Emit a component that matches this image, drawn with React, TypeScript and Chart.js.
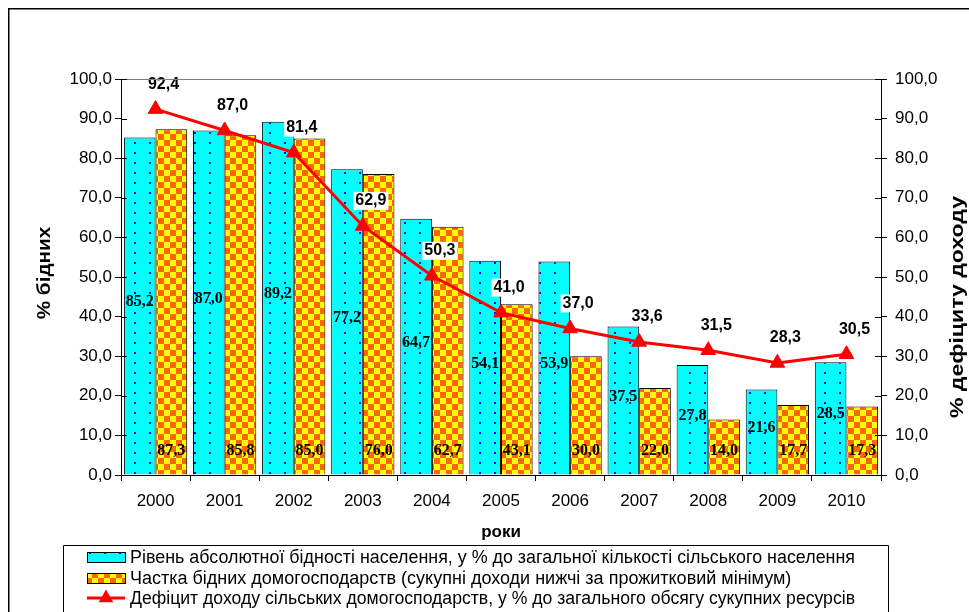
import React, { useEffect, useRef } from 'react';
import { Chart, registerables } from 'chart.js';

Chart.register(...registerables);

const years = ['2000', '2001', '2002', '2003', '2004', '2005', '2006', '2007', '2008', '2009', '2010'];
const povertyLevel = [85.2, 87.0, 89.2, 77.2, 64.7, 54.1, 53.9, 37.5, 27.8, 21.6, 28.5];
const poorHouseholds = [87.3, 85.8, 85.0, 76.0, 62.7, 43.1, 30.0, 22.0, 14.0, 17.7, 17.3];
const incomeDeficit = [92.4, 87.0, 81.4, 62.9, 50.3, 41.0, 37.0, 33.6, 31.5, 28.3, 30.5];

const legendLabels = [
  'Рівень абсолютної бідності населення, у % до загальної кількості сільського населення',
  'Частка бідних домогосподарств (сукупні доходи нижчі за прожитковий мінімум)',
  'Дефіцит доходу сільських домогосподарств, у % до загального обсягу сукупних ресурсів',
];
const leftTitle = '% бідних';
const rightTitle = '% дефіциту доходу';
const xTitle = 'роки';

const W = 961;
const H = 604;
const SANS = '"Liberation Sans", Arial, sans-serif';
const SERIF = '"Liberation Serif", "Times New Roman", serif';

const fmt = (v: number) => v.toFixed(1).replace('.', ',');

function makeDots(): CanvasPattern | string {
  const c = document.createElement('canvas');
  c.width = 15;
  c.height = 10;
  const g = c.getContext('2d');
  if (!g) return '#00FFFF';
  g.fillStyle = '#00FFFF';
  g.fillRect(0, 0, 15, 10);
  g.fillStyle = '#0000FF';
  g.fillRect(6, 4, 2, 2);
  const p = g.createPattern(c, 'repeat');
  return p || '#00FFFF';
}

function makeChecker(): CanvasPattern | string {
  const c = document.createElement('canvas');
  c.width = 12;
  c.height = 12;
  const g = c.getContext('2d');
  if (!g) return '#FF9900';
  g.fillStyle = '#FFFF00';
  g.fillRect(0, 0, 12, 12);
  g.fillStyle = '#FF6600';
  g.fillRect(0, 0, 6, 6);
  g.fillRect(6, 6, 6, 6);
  const p = g.createPattern(c, 'repeat');
  return p || '#FF9900';
}

export default function App() {
  const ref = useRef<HTMLCanvasElement | null>(null);

  useEffect(() => {
    document.documentElement.style.overflow = 'hidden';
    const canvas = ref.current;
    if (!canvas) return;
    const dots = makeDots();
    const checker = makeChecker();

    const decor = {
      id: 'decor',
      afterDatasetsDraw(chart: any) {
        const ctx = chart.ctx as CanvasRenderingContext2D;
        const m0 = chart.getDatasetMeta(0);
        const m1 = chart.getDatasetMeta(1);
        const m2 = chart.getDatasetMeta(2);
        ctx.save();
        ctx.font = 'bold 16px ' + SERIF;
        ctx.fillStyle = '#000';
        ctx.textAlign = 'center';
        ctx.textBaseline = 'middle';
        m0.data.forEach((bar: any, i: number) => {
          ctx.fillText(fmt(povertyLevel[i]), bar.x, (bar.y + bar.base) / 2 - 4);
        });
        m1.data.forEach((bar: any, i: number) => {
          ctx.fillText(fmt(poorHouseholds[i]), bar.x, bar.base - 24);
        });
        ctx.font = 'bold 16px ' + SANS;
        m2.data.forEach((pt: any, i: number) => {
          const t = fmt(incomeDeficit[i]);
          const w = ctx.measureText(t).width;
          const cx = pt.x + 8;
          const cy = pt.y - 25;
          ctx.fillStyle = '#fff';
          ctx.fillRect(cx - w / 2 - 2, cy - 9, w + 4, 18);
          ctx.fillStyle = '#000';
          ctx.fillText(t, cx, cy);
        });
        ctx.restore();
      },
      afterDraw(chart: any) {
        const ctx = chart.ctx as CanvasRenderingContext2D;
        const ca = chart.chartArea;
        ctx.save();
        ctx.strokeStyle = '#808080';
        ctx.lineWidth = 1;
        ctx.beginPath();
        ctx.moveTo(ca.left, Math.round(ca.top) + 0.5);
        ctx.lineTo(ca.right, Math.round(ca.top) + 0.5);
        ctx.stroke();
        ctx.strokeStyle = '#000';
        const ys = chart.scales.y;
        ys.ticks.forEach((t: any) => {
          const py = Math.round(ys.getPixelForValue(t.value)) + 0.5;
          ctx.beginPath();
          ctx.moveTo(ca.left, py);
          ctx.lineTo(ca.left + 6, py);
          ctx.moveTo(ca.right - 6, py);
          ctx.lineTo(ca.right, py);
          ctx.stroke();
        });
        ctx.strokeStyle = '#000';
        ctx.lineWidth = 1.5;
        ctx.beginPath();
        ctx.moveTo(0.75, H + 2);
        ctx.lineTo(0.75, 0.75);
        ctx.lineTo(W + 2, 0.75);
        ctx.stroke();
        ctx.fillStyle = '#000';
        ctx.textAlign = 'center';
        ctx.textBaseline = 'middle';
        ctx.font = 'bold 17px ' + SANS;
        ctx.fillText(xTitle, (ca.left + ca.right) / 2, ca.bottom + 57);
        ctx.font = 'bold 18px ' + SANS;
        ctx.save();
        ctx.translate(37, (ca.top + ca.bottom) / 2 - 4);
        ctx.rotate(-Math.PI / 2);
        ctx.scale(1.15, 1);
        ctx.fillText(leftTitle, 0, 0);
        ctx.restore();
        ctx.save();
        ctx.translate(950, 299);
        ctx.rotate(-Math.PI / 2);
        ctx.scale(1.28, 1);
        ctx.fillText(rightTitle, 0, 0);
        ctx.restore();
        ctx.strokeStyle = '#000';
        ctx.lineWidth = 1;
        ctx.beginPath();
        ctx.moveTo(55.5, H + 2);
        ctx.lineTo(55.5, 537.5);
        ctx.lineTo(880.5, 537.5);
        ctx.lineTo(880.5, H + 2);
        ctx.stroke();
        const rows = [549, 570, 590];
        const sx = 79;
        const sw = 38;
        ctx.fillStyle = dots as any;
        ctx.fillRect(sx, rows[0] - 5, sw, 11);
        ctx.strokeRect(sx + 0.5, rows[0] - 4.5, sw, 10);
        ctx.fillStyle = checker as any;
        ctx.fillRect(sx, rows[1] - 5, sw, 11);
        ctx.strokeRect(sx + 0.5, rows[1] - 4.5, sw, 10);
        ctx.strokeStyle = '#FF0000';
        ctx.lineWidth = 3;
        ctx.beginPath();
        ctx.moveTo(sx, rows[2]);
        ctx.lineTo(sx + sw, rows[2]);
        ctx.stroke();
        ctx.fillStyle = '#FF0000';
        ctx.beginPath();
        const tx = sx + sw / 2;
        const r = 8.5;
        ctx.moveTo(tx, rows[2] - r);
        ctx.lineTo(tx + r * 0.866, rows[2] + r * 0.5);
        ctx.lineTo(tx - r * 0.866, rows[2] + r * 0.5);
        ctx.closePath();
        ctx.fill();
        ctx.fillStyle = '#000';
        ctx.textAlign = 'left';
        ctx.font = '18px ' + SANS;
        legendLabels.forEach((t, i) => {
          ctx.fillText(t, 122, rows[i] + 1, 725);
        });
        ctx.restore();
      },
    };

    const chart = new Chart(canvas, {
      type: 'bar',
      data: {
        labels: years,
        datasets: [
          {
            type: 'bar',
            label: legendLabels[0],
            data: povertyLevel,
            backgroundColor: dots as any,
            borderColor: '#000',
            borderWidth: 1,
            yAxisID: 'y',
            order: 1,
            categoryPercentage: 0.916,
            barPercentage: 1.0,
          },
          {
            type: 'bar',
            label: legendLabels[1],
            data: poorHouseholds,
            backgroundColor: checker as any,
            borderColor: '#000',
            borderWidth: 1,
            yAxisID: 'y',
            order: 2,
            categoryPercentage: 0.916,
            barPercentage: 1.0,
          },
          {
            type: 'line',
            label: legendLabels[2],
            data: incomeDeficit,
            borderColor: '#FF0000',
            backgroundColor: '#FF0000',
            borderWidth: 3,
            pointStyle: 'triangle',
            pointRadius: 8.5,
            pointBorderWidth: 1,
            yAxisID: 'y2',
            order: 0,
            tension: 0,
          } as any,
        ],
      },
      options: {
        responsive: false,
        animation: false,
        layout: { padding: { top: 71, left: 0, right: 0, bottom: 0 } },
        plugins: {
          legend: { display: false },
          tooltip: { enabled: false },
          title: { display: false },
        },
        scales: {
          x: {
            offset: true,
            grid: { offset: true, drawOnChartArea: false, tickLength: 6, color: '#000' },
            border: { color: '#000', width: 1 },
            ticks: { color: '#000', font: { family: SANS, size: 17 }, padding: 10, maxRotation: 0 },
            afterFit: (s: any) => {
              s.height = H - 467;
            },
          },
          y: {
            position: 'left',
            min: 0,
            max: 100,
            ticks: {
              stepSize: 10,
              color: '#000',
              font: { family: SANS, size: 17 },
              padding: 3,
              callback: (v: any) => fmt(Number(v)),
            },
            grid: { drawOnChartArea: false, tickLength: 6, color: '#000' },
            border: { color: '#000', width: 1 },
            afterFit: (s: any) => {
              s.width = 113;
            },
          },
          y2: {
            position: 'right',
            min: 0,
            max: 100,
            ticks: {
              stepSize: 10,
              color: '#000',
              font: { family: SANS, size: 17 },
              padding: 8,
              callback: (v: any) => fmt(Number(v)),
            },
            grid: { drawOnChartArea: false, tickLength: 6, color: '#000' },
            border: { color: '#000', width: 1 },
            afterFit: (s: any) => {
              s.width = 88;
            },
          },
        },
      },
      plugins: [decor],
    } as any);

    return () => {
      chart.destroy();
    };
  }, []);

  return (
    <div style={{ position: 'fixed', left: 8, top: 8, width: W, height: H, background: '#fff' }}>
      <canvas ref={ref} width={W} height={H} style={{ display: 'block', width: W, height: H }} />
    </div>
  );
}
